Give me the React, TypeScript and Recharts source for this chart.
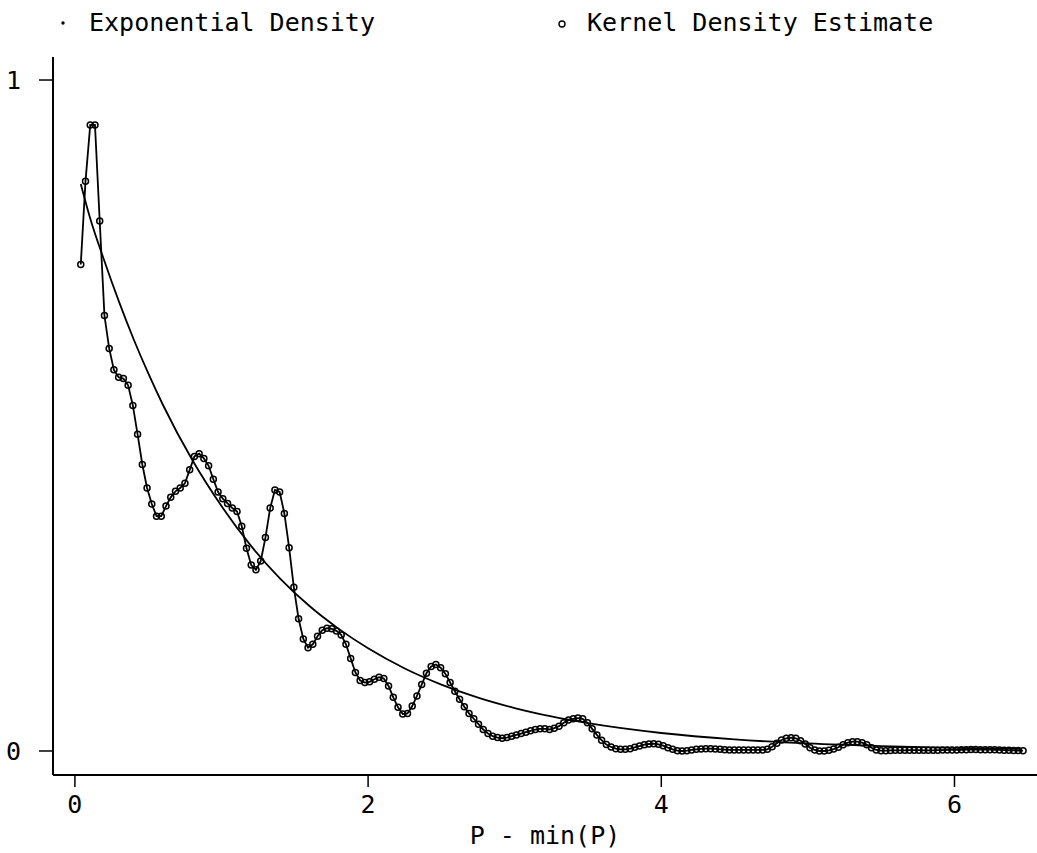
import React from 'react';
import { LineChart, Line, XAxis, YAxis, Legend } from 'recharts';

// Kernel density estimate: evaluated on an evenly spaced grid (read from the marker spacing)
const KDE_X_START = 0.04;
const KDE_X_STEP = 0.0323;
const kdeDensity = [
  0.725, 0.849, 0.933, 0.933, 0.790, 0.649, 0.600, 0.568, 0.557, 0.555,
  0.545, 0.515, 0.472, 0.427, 0.392, 0.368, 0.350, 0.350, 0.365, 0.378,
  0.387, 0.392, 0.399, 0.419, 0.439, 0.443, 0.436, 0.425, 0.405, 0.386,
  0.376, 0.369, 0.362, 0.357, 0.335, 0.302, 0.277, 0.270, 0.283, 0.318,
  0.362, 0.389, 0.386, 0.354, 0.303, 0.244, 0.197, 0.167, 0.154, 0.159,
  0.171, 0.180, 0.183, 0.182, 0.179, 0.173, 0.159, 0.138, 0.117, 0.105,
  0.102, 0.103, 0.107, 0.110, 0.108, 0.097, 0.080, 0.065, 0.055, 0.056,
  0.067, 0.082, 0.099, 0.116, 0.126, 0.129, 0.124, 0.115, 0.102, 0.089,
  0.077, 0.066, 0.056, 0.048, 0.040, 0.032, 0.026, 0.022, 0.020, 0.019,
  0.020, 0.022, 0.024, 0.026, 0.028, 0.030, 0.032, 0.033, 0.033, 0.032,
  0.034, 0.037, 0.042, 0.046, 0.048, 0.049, 0.048, 0.042, 0.033, 0.024,
  0.016, 0.0095, 0.006, 0.0034, 0.0025, 0.0025, 0.0034, 0.0055, 0.0074, 0.0094,
  0.0104, 0.0109, 0.0100, 0.0079, 0.0049, 0.0025, 0.0004, 0.0, 0.0004, 0.0015,
  0.0025, 0.003, 0.0034, 0.0034, 0.003, 0.0025, 0.002, 0.0015, 0.0015, 0.0015,
  0.0015, 0.0015, 0.0015, 0.0015, 0.0015, 0.0025, 0.0064, 0.0115, 0.0164, 0.0189,
  0.0198, 0.0189, 0.0153, 0.0104, 0.0049, 0.0015, 0.0, 0.0, 0.001, 0.0028,
  0.0055, 0.0094, 0.0124, 0.0138, 0.0138, 0.0124, 0.0094, 0.0049, 0.0015, 0.0004,
  0.0005, 0.0008, 0.001, 0.001, 0.001, 0.0012, 0.0012, 0.0012, 0.001, 0.001,
  0.001, 0.0012, 0.0014, 0.0015, 0.0015, 0.0015, 0.0017, 0.002, 0.0022, 0.0022,
  0.002, 0.002, 0.002, 0.0018, 0.0015, 0.0012, 0.001, 0.0008, 0.0006, 0.0005,
];

// Exponential density curve
const expX = [
  0.04, 0.1, 0.2, 0.3, 0.4, 0.5, 0.6, 0.8, 1.0, 1.2, 1.4, 1.6, 1.8, 2.0,
  2.25, 2.5, 2.75, 3.0, 3.25, 3.5, 4.0, 4.5, 5.0, 5.5, 6.0, 6.46,
];
const expDensity = [
  0.845, 0.797, 0.731, 0.670, 0.614, 0.563, 0.516, 0.434, 0.365, 0.306, 0.257, 0.216, 0.182, 0.153,
  0.123, 0.099, 0.0795, 0.064, 0.0515, 0.0414, 0.0268, 0.0173, 0.0112, 0.0073, 0.0047, 0.0031,
];

const xTicks = [0, 2, 4, 6];
const yTicks = [0, 1];
const seriesNames = ['Exponential Density', 'Kernel Density Estimate'];
const xAxisTitle = 'P - min(P)';

const kdeData = kdeDensity.map((y, i) => ({ x: KDE_X_START + i * KDE_X_STEP, y }));
const expData = expX.map((x, i) => ({ x, y: expDensity[i] }));

const FONT = "'DejaVu Sans Mono', monospace";
const tickStyle = { fontFamily: FONT, fontSize: 25, fill: '#000' };

const LegendContent = () => (
  <svg width={1037} height={45} style={{ display: 'block' }}>
    <circle cx={63} cy={23} r={1.7} fill="#000" />
    <text x={89} y={31} style={tickStyle as any}>{seriesNames[0]}</text>
    <circle cx={562} cy={24} r={3} fill="none" stroke="#000" strokeWidth={1.4} />
    <text x={587} y={31} style={tickStyle as any}>{seriesNames[1]}</text>
  </svg>
);

const XTitle = (props: any) => {
  const vb = props.viewBox || { x: 53, width: 984 };
  return (
    <text x={vb.x + vb.width / 2} y={844} textAnchor="middle" style={tickStyle as any}>
      {xAxisTitle}
    </text>
  );
};

export default function App() {
  return (
    <div style={{ position: 'absolute', left: 0, top: 0, width: 1037, height: 853, background: '#fff' }}>
      <LineChart width={1037} height={853} margin={{ top: 57, right: 0, left: 0, bottom: 0 }}>
        <XAxis
          type="number"
          dataKey="x"
          domain={[-0.1494, 6.5628]}
          ticks={xTicks}
          allowDataOverflow
          height={78}
          tickSize={12}
          tickMargin={8}
          tick={tickStyle}
          axisLine={{ stroke: '#000', strokeWidth: 2 }}
          tickLine={{ stroke: '#000', strokeWidth: 1.5 }}
          label={<XTitle />}
        />
        <YAxis
          type="number"
          domain={[-0.0358, 1.0343]}
          ticks={yTicks}
          allowDataOverflow
          width={53}
          tickSize={14}
          tickMargin={18}
          tick={tickStyle}
          axisLine={{ stroke: '#000', strokeWidth: 2 }}
          tickLine={{ stroke: '#000', strokeWidth: 1.5 }}
        />
        <Legend
          layout="vertical"
          align="center"
          verticalAlign="middle"
          wrapperStyle={{ position: 'absolute', top: 0, left: 0, width: 1037, height: 45 }}
          content={<LegendContent />}
        />
        <Line
          data={expData}
          dataKey="y"
          name={seriesNames[0]}
          type="monotone"
          stroke="#000"
          strokeWidth={1.8}
          dot={false}
          activeDot={false}
          isAnimationActive={false}
        />
        <Line
          data={kdeData}
          dataKey="y"
          name={seriesNames[1]}
          type="linear"
          stroke="#000"
          strokeWidth={1.8}
          dot={{ r: 3, stroke: '#000', strokeWidth: 1.5, fill: 'none' }}
          activeDot={false}
          isAnimationActive={false}
        />
      </LineChart>
    </div>
  );
}
